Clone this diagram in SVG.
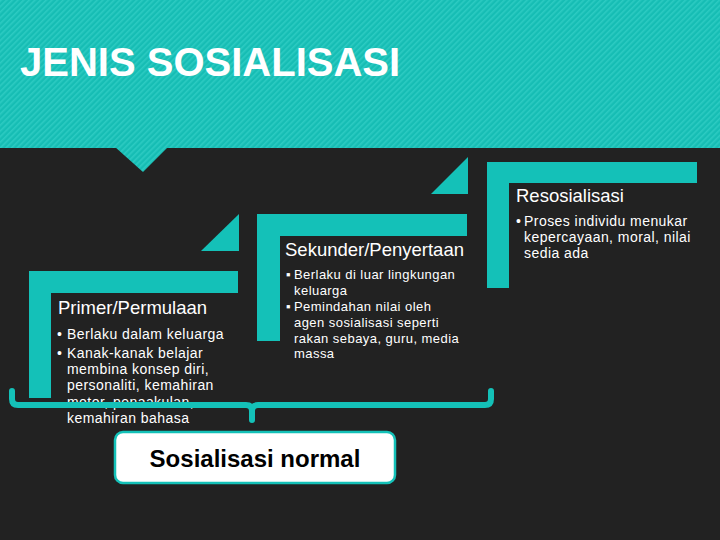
<svg xmlns="http://www.w3.org/2000/svg" width="720" height="540" viewBox="0 0 720 540">
  <defs>
    <pattern id="stripes" width="4" height="4" patternUnits="userSpaceOnUse" patternTransform="rotate(45)">
      <rect width="4" height="4" fill="#16bdb4"/>
      <rect width="1.6" height="4" fill="#2ccbc2"/>
    </pattern>
    <style>
      .teal { fill: #14c1b8; }
      .head { font-family: "Liberation Sans", Arial, sans-serif; font-size: 18.5px; fill: #ffffff; }
      .body14 { font-family: "Liberation Sans", Arial, sans-serif; font-size: 14px; letter-spacing: 0.45px; fill: #ffffff; }
      .body13 { font-family: "Liberation Sans", Arial, sans-serif; font-size: 13px; letter-spacing: 0.45px; fill: #ffffff; }
      .conn { fill: none; stroke: #14c1b8; stroke-width: 6; stroke-linecap: round; stroke-linejoin: round; }
    </style>
  </defs>

  <rect x="0" y="0" width="720" height="540" fill="#222222"/>

  <g id="header">
    <rect x="0" y="0" width="720" height="148" fill="url(#stripes)"/>
    <polygon points="115,147 168,147 143,172" fill="url(#stripes)"/>
    <text x="20" y="76" font-family="Liberation Sans, Arial, sans-serif" font-size="40" font-weight="bold" fill="#ffffff">JENIS SOSIALISASI</text>
  </g>

  <g id="primer">
    <path class="teal" d="M29,271 H238 V293 H51 V398 H29 Z"/>
    <text class="head" x="58" y="314">Primer/Permulaan</text>
    <text class="body14" x="57" y="339">•</text>
    <text class="body14" x="67" y="339">Berlaku dalam keluarga</text>
    <text class="body14" x="57" y="358">•</text>
    <text class="body14" x="67" y="358">Kanak-kanak belajar</text>
    <text class="body14" x="67" y="374">membina konsep diri,</text>
    <text class="body14" x="67" y="390">personaliti, kemahiran</text>
    <text class="body14" x="67" y="407">motor, penaakulan,</text>
    <text class="body14" x="67" y="423">kemahiran bahasa</text>
  </g>

  <g id="sekunder">
    <polygon class="teal" points="239,214 239,251 201,251"/>
    <path class="teal" d="M257,214 H467 V236 H280 V341 H257 Z"/>
    <text class="head" x="285" y="256">Sekunder/Penyertaan</text>
    <text class="body13" x="286" y="279">▪</text>
    <text class="body13" x="294" y="279">Berlaku di luar lingkungan</text>
    <text class="body13" x="294" y="295">keluarga</text>
    <text class="body13" x="286" y="311">▪</text>
    <text class="body13" x="294" y="311">Pemindahan nilai oleh</text>
    <text class="body13" x="294" y="327">agen sosialisasi seperti</text>
    <text class="body13" x="294" y="343">rakan sebaya, guru, media</text>
    <text class="body13" x="294" y="358">massa</text>
  </g>

  <g id="resosialisasi">
    <polygon class="teal" points="468,157 468,194 431,194"/>
    <path class="teal" d="M487,162 H697 V183 H509 V288 H487 Z"/>
    <text class="head" x="516" y="202">Resosialisasi</text>
    <text class="body14" x="516" y="226">•</text>
    <text class="body14" x="524" y="226">Proses individu menukar</text>
    <text class="body14" x="524" y="242">kepercayaan, moral, nilai</text>
    <text class="body14" x="524" y="258">sedia ada</text>
  </g>

  <g id="connectors">
    <path class="conn" d="M12,391 V399 Q12,405 18,405 H246 Q252,405 252,411 V420 M252,411 Q252,405 258,405 H485 Q491,405 491,399 V391"/>
  </g>

  <g id="normal">
    <rect x="115" y="432" width="280" height="51" rx="8" ry="8" fill="#ffffff" stroke="#14c1b8" stroke-width="2.5"/>
    <text x="255" y="467" text-anchor="middle" font-family="Liberation Sans, Arial, sans-serif" font-size="24" font-weight="bold" fill="#000000">Sosialisasi normal</text>
  </g>
</svg>
